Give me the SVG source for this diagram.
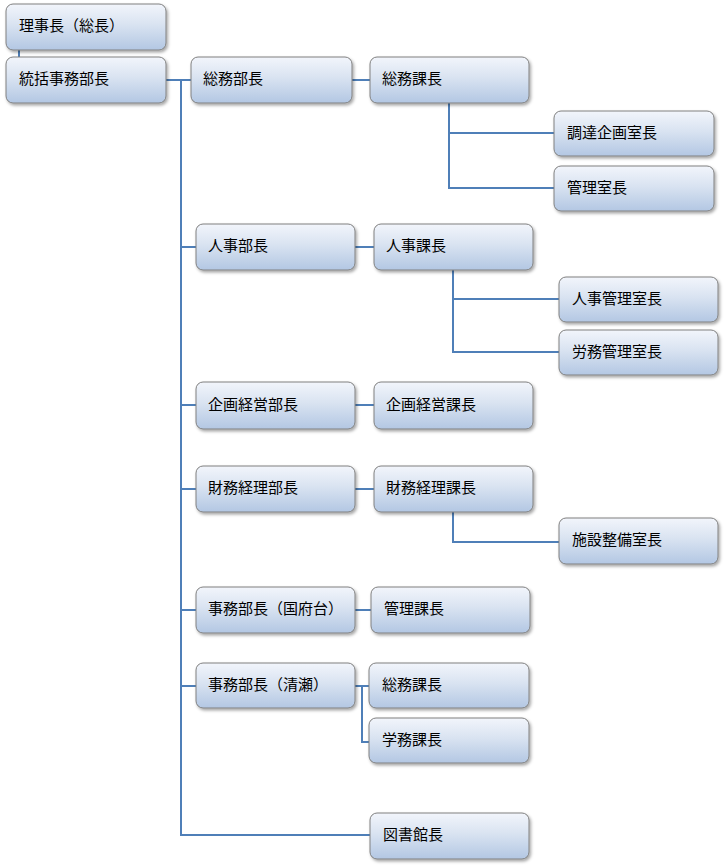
<svg xmlns="http://www.w3.org/2000/svg" width="725" height="868" viewBox="0 0 725 868">
<defs>
<linearGradient id="g" x1="0" y1="0" x2="0" y2="1">
<stop offset="0" stop-color="#f2f5fb"/>
<stop offset="0.45" stop-color="#d9e3f1"/>
<stop offset="1" stop-color="#b3c7e3"/>
</linearGradient>
<filter id="sh" x="-10%" y="-20%" width="130%" height="150%">
<feDropShadow dx="1.5" dy="2" stdDeviation="1.5" flood-color="#000" flood-opacity="0.35"/>
</filter>
</defs>
<style>
.b{fill:url(#g);stroke:#808080;stroke-width:1;filter:url(#sh)}
.t{font-family:"Noto Sans CJK JP","Noto Sans CJK SC",sans-serif;font-size:15px;fill:#000}
.c{fill:none;stroke:#4f7fb8;stroke-width:2}
</style>
<rect width="725" height="868" fill="#fff"/>
<g id="connectors">
<path class="c" d="M19 50V57"/>
<path class="c" d="M166 80H191M181 80V835H370"/>
<path class="c" d="M352 80H370"/>
<path class="c" d="M449 103V188H554M449 133H554"/>
<path class="c" d="M181 247H196M355 247H374"/>
<path class="c" d="M453 270V352H559M453 299H559"/>
<path class="c" d="M181 405H196M355 405H374"/>
<path class="c" d="M181 489H196M355 489H374"/>
<path class="c" d="M453 512V542H559"/>
<path class="c" d="M181 610H196M355 610H371"/>
<path class="c" d="M181 686H196M355 686H369M362 686V742H369"/>
</g>
<g id="n1"><rect class="b" x="6" y="4" width="160" height="46" rx="7"/><text class="t" x="19" y="31">理事長（総長）</text></g>
<g id="n2"><rect class="b" x="6" y="57" width="160" height="46" rx="7"/><text class="t" x="19" y="84">統括事務部長</text></g>
<g id="n3"><rect class="b" x="191" y="57" width="161" height="46" rx="7"/><text class="t" x="203" y="84">総務部長</text></g>
<g id="n4"><rect class="b" x="370" y="57" width="159" height="46" rx="7"/><text class="t" x="382" y="84">総務課長</text></g>
<g id="n5"><rect class="b" x="554" y="111" width="160" height="45" rx="7"/><text class="t" x="567" y="138">調達企画室長</text></g>
<g id="n6"><rect class="b" x="554" y="166" width="160" height="45" rx="7"/><text class="t" x="567" y="193">管理室長</text></g>
<g id="n7"><rect class="b" x="196" y="224" width="159" height="46" rx="7"/><text class="t" x="208" y="251">人事部長</text></g>
<g id="n8"><rect class="b" x="374" y="224" width="159" height="46" rx="7"/><text class="t" x="386" y="251">人事課長</text></g>
<g id="n9"><rect class="b" x="559" y="277" width="159" height="45" rx="7"/><text class="t" x="572" y="304">人事管理室長</text></g>
<g id="n10"><rect class="b" x="559" y="330" width="159" height="45" rx="7"/><text class="t" x="572" y="357">労務管理室長</text></g>
<g id="n11"><rect class="b" x="196" y="382" width="159" height="47" rx="7"/><text class="t" x="208" y="410">企画経営部長</text></g>
<g id="n12"><rect class="b" x="374" y="382" width="159" height="47" rx="7"/><text class="t" x="386" y="410">企画経営課長</text></g>
<g id="n13"><rect class="b" x="196" y="466" width="159" height="46" rx="7"/><text class="t" x="208" y="493">財務経理部長</text></g>
<g id="n14"><rect class="b" x="374" y="466" width="159" height="46" rx="7"/><text class="t" x="386" y="493">財務経理課長</text></g>
<g id="n15"><rect class="b" x="559" y="518" width="159" height="46" rx="7"/><text class="t" x="572" y="545">施設整備室長</text></g>
<g id="n16"><rect class="b" x="196" y="587" width="159" height="46" rx="7"/><text class="t" x="208" y="614">事務部長（国府台）</text></g>
<g id="n17"><rect class="b" x="371" y="587" width="159" height="46" rx="7"/><text class="t" x="384" y="614">管理課長</text></g>
<g id="n18"><rect class="b" x="196" y="663" width="159" height="45" rx="7"/><text class="t" x="208" y="690">事務部長（清瀬）</text></g>
<g id="n19"><rect class="b" x="369" y="663" width="160" height="45" rx="7"/><text class="t" x="382" y="690">総務課長</text></g>
<g id="n20"><rect class="b" x="369" y="718" width="160" height="45" rx="7"/><text class="t" x="382" y="745">学務課長</text></g>
<g id="n21"><rect class="b" x="370" y="813" width="159" height="46" rx="7"/><text class="t" x="383" y="840">図書館長</text></g>
</svg>
